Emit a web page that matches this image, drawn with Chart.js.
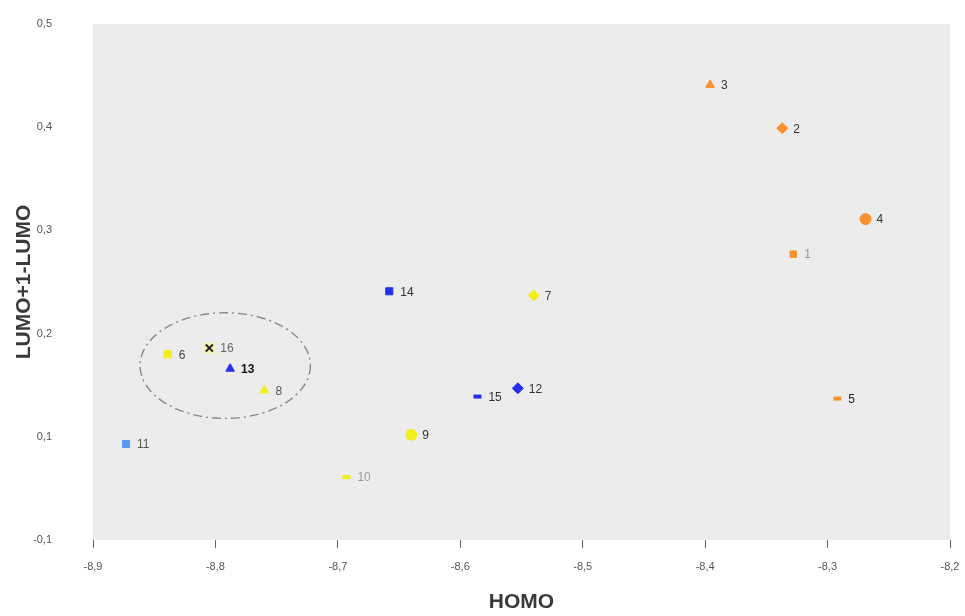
<!DOCTYPE html>
<html>
<head>
<meta charset="utf-8">
<script src="https://cdn.jsdelivr.net/npm/chart.js@4.4.0/dist/chart.umd.min.js"></script>
<style>
  body { margin: 0; background: #fff; }
  canvas { display: block; }
</style>
</head>
<body>
<canvas id="c" width="965" height="616"></canvas>
<script>
// compound numbers, HOMO (x) and LUMO+1-LUMO (y)
const ids  = ['1', '2', '3', '4', '5', '6', '7', '8', '9', '10', '11', '12', '13', '14', '15', '16'];
const homo = [-8.328, -8.337, -8.396, -8.269, -8.292, -8.839, -8.540, -8.760, -8.640, -8.693, -8.873, -8.553, -8.788, -8.658, -8.586, -8.805];
const lumo = [0.277, 0.399, 0.441, 0.311, 0.137, 0.180, 0.237, 0.145, 0.102, 0.061, 0.093, 0.147, 0.166, 0.241, 0.139, 0.186];

const xTickLabels = ['-8,9', '-8,8', '-8,7', '-8,6', '-8,5', '-8,4', '-8,3', '-8,2'];
const yTickLabels = ['-0,1', '0,1', '0,2', '0,3', '0,4', '0,5'];

// dashed ring around the cluster (centre and radii in axis units)
const ringCentre = [-8.792, 0.169];
const ringRadius = [0.0696, 0.0512];

// styles
const ORANGE = '#f7922f', YELLOW = '#f3ee1c', BLUE = '#2331ec', LIGHTBLUE = '#5b97f4';
const colors = [ORANGE, ORANGE, ORANGE, ORANGE, ORANGE, YELLOW, YELLOW, YELLOW, YELLOW, YELLOW, LIGHTBLUE, BLUE, BLUE, BLUE, BLUE, '#222'];
const shapes = ['rect', 'rectRot', 'triangle', 'circle', 'line', 'rect', 'rectRot', 'triangle', 'circle', 'line', 'rect', 'rectRot', 'triangle', 'rect', 'line', 'crossRot'];
const sizes  = [4.5, 5.5, 5, 5.5, 4, 5, 5.5, 5, 5.5, 4, 5, 5.5, 5, 5, 4, 5];
const labelColors = ['#999', '#333', '#333', '#333', '#222', '#444', '#444', '#555', '#333', '#999', '#555', '#333', '#111', '#333', '#333', '#666'];

const points = homo.map((h, i) => ({ x: h, y: lumo[i] }));

const plotExtras = {
  id: 'plotExtras',
  beforeDraw(chart) {
    const { ctx, chartArea: a } = chart;
    ctx.save();
    ctx.fillStyle = '#ececec';
    ctx.fillRect(a.left, a.top, a.right - a.left, a.bottom - a.top);
    ctx.restore();
  },
  afterDatasetsDraw(chart) {
    const { ctx, scales: { x, y } } = chart;
    ctx.save();
    // ring
    const cx = x.getPixelForValue(ringCentre[0]);
    const cy = y.getPixelForValue(ringCentre[1]);
    const rx = x.getPixelForValue(ringCentre[0] + ringRadius[0]) - cx;
    const ry = cy - y.getPixelForValue(ringCentre[1] + ringRadius[1]);
    ctx.strokeStyle = '#8a8a8a';
    ctx.lineWidth = 1.4;
    ctx.setLineDash([9, 4, 2, 4]);
    ctx.beginPath();
    ctx.ellipse(cx, cy, rx, ry, 0, 0, Math.PI * 2);
    ctx.stroke();
    ctx.setLineDash([]);
    // point labels
    ctx.textBaseline = 'middle';
    ctx.textAlign = 'left';
    const meta = chart.getDatasetMeta(1);
    meta.data.forEach((pt, i) => {
      ctx.font = (ids[i] === '13' ? 'bold ' : '') + '12px "Liberation Sans", Arial, sans-serif';
      ctx.fillStyle = labelColors[i];
      ctx.fillText(ids[i], pt.x + 11, pt.y + 1);
    });
    ctx.restore();
  }
};

new Chart(document.getElementById('c'), {
  type: 'scatter',
  data: {
    datasets: [{
      // pale highlight behind compound 16
      data: [points[15]],
      order: 2,
      pointStyle: 'rect',
      pointRadius: 8,
      backgroundColor: '#f7f0b4',
      borderWidth: 0
    }, {
      data: points,
      order: 1,
      pointStyle: shapes,
      pointRadius: sizes,
      pointHoverRadius: sizes,
      backgroundColor: colors,
      borderColor: colors,
      borderWidth: shapes.map(s => s === 'line' ? 4 : (s === 'crossRot' ? 2 : 1))
    }]
  },
  options: {
    responsive: false,
    animation: false,
    layout: { padding: { top: 24, right: 15, left: 0, bottom: 0 } },
    plugins: { legend: { display: false }, tooltip: { enabled: false } },
    scales: {
      x: {
        type: 'linear',
        min: -8.9,
        max: -8.2,
        afterFit(s) { s.height = 76; s.paddingLeft = 0; s.paddingRight = 0; },
        border: { display: false },
        grid: { drawOnChartArea: false, drawTicks: true, tickLength: 8, color: '#666', lineWidth: 1 },
        ticks: {
          stepSize: 0.1,
          padding: 12,
          color: '#555',
          font: { size: 11, family: '"Liberation Sans", Arial, sans-serif' },
          callback: (v, i) => xTickLabels[i]
        },
        title: {
          display: true,
          text: 'HOMO',
          color: '#3a3a3a',
          padding: { top: 0, bottom: 1 },
          font: { size: 21, weight: 'bold', family: '"Liberation Sans", Arial, sans-serif' }
        }
      },
      y: {
        type: 'linear',
        min: 0,
        max: 0.5,
        afterFit(s) { s.width = 93; s.paddingTop = 0; s.paddingBottom = 0; },
        border: { display: false },
        grid: { display: false, drawTicks: false },
        ticks: {
          stepSize: 0.1,
          padding: 41,
          color: '#555',
          font: { size: 11, family: '"Liberation Sans", Arial, sans-serif' },
          callback: (v, i) => yTickLabels[i]
        },
        title: {
          display: true,
          text: 'LUMO+1-LUMO',
          color: '#3a3a3a',
          padding: { top: 12, bottom: 0 },
          font: { size: 21, weight: 'bold', family: '"Liberation Sans", Arial, sans-serif' }
        }
      }
    }
  },
  plugins: [plotExtras]
});
</script>
</body>
</html>
